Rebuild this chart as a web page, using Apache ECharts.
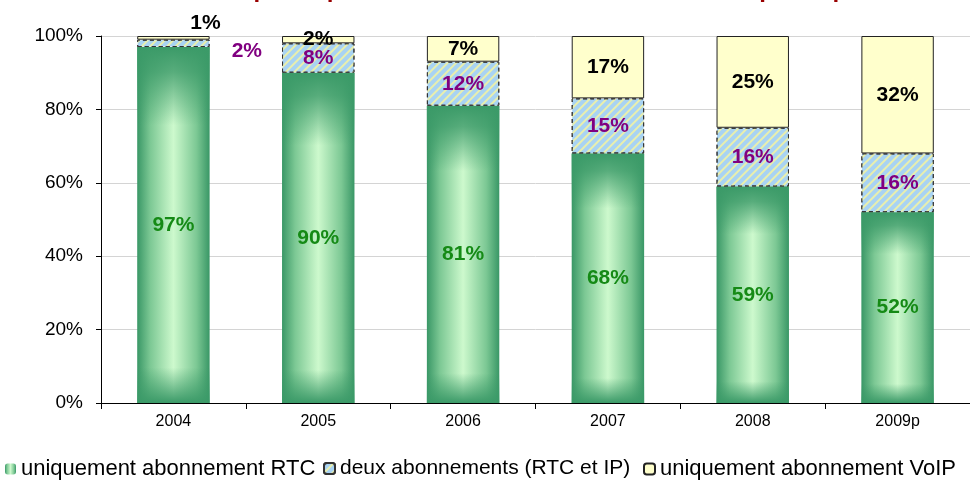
<!DOCTYPE html>
<html><head><meta charset="utf-8">
<script src="https://cdn.jsdelivr.net/npm/echarts@6/dist/echarts.min.js"></script>
<style>html,body{margin:0;padding:0;background:#fff}#c{width:970px;height:484px}</style>
</head><body><div id="c"></div>
<script>
const titleText = "Abonnés téléphoniques selon le mode d'abonnement téléphonique";
const categories = ['2004','2005','2006','2007','2008','2009p'];
const seriesNames = ['uniquement abonnement RTC','deux abonnements (RTC et IP)','uniquement abonnement VoIP'];
const rtc = [97, 90, 81, 68, 59, 52];
const both = [2, 8, 12, 15, 16, 16];
const voip = [1, 2, 7, 17, 25, 32];
const yTicks = [0, 20, 40, 60, 80, 100];

const FONT = "'Liberation Sans', Arial, sans-serif";
const chart = echarts.init(document.getElementById('c'), null, {renderer:'canvas'});

const lbl = (color) => ({show:true, position:'inside', color:color, fontSize:21, fontWeight:'bold', fontFamily:FONT, formatter: p => p.value + '%'});

const bothData = both.map((v,i) => i === 0 ? {value:v, label:{position:'right', distance:22, offset:[0,8]}} : v);
const voipData = voip.map((v,i) => i === 0 ? {value:v, label:{position:'top', distance:2, offset:[32,0]}} : v);

const greenGrad = new echarts.graphic.LinearGradient(0,0,1,0,[
  {offset:0, color:'#399766'},{offset:0.18, color:'#7cc894'},{offset:0.5, color:'#cdf9cd'},{offset:0.82, color:'#7cc894'},{offset:1, color:'#399766'}]);
const shade = new echarts.graphic.LinearGradient(0,0,0,1,[
  {offset:0, color:'rgba(59,154,104,1)'},{offset:0.07, color:'rgba(59,154,104,0.8)'},{offset:0.22, color:'rgba(59,154,104,0)'},
  {offset:0.9, color:'rgba(59,154,104,0)'},{offset:0.98, color:'rgba(59,154,104,0.8)'},{offset:1, color:'rgba(59,154,104,1)'}]);

const legendBase = {top:453, itemWidth:11, itemHeight:11, itemGap:0};
const legendText = (size) => ({fontSize:size, color:'#000', fontFamily:FONT});

chart.setOption({
  animation:false,
  title:{text:titleText, left:'center', top:-27, textStyle:{color:'#990000', fontSize:24, fontWeight:'bold', fontFamily:FONT}},
  grid:{left:101, right:-13, top:36, bottom:81, containLabel:false},
  legend:[
    Object.assign({data:[seriesNames[0]], left:0, textStyle:legendText(22)}, legendBase),
    Object.assign({data:[seriesNames[1]], left:318, textStyle:legendText(21)}, legendBase),
    Object.assign({data:[seriesNames[2]], left:638, textStyle:legendText(22)}, legendBase)
  ],
  xAxis:{type:'category', data:categories,
    axisLine:{lineStyle:{color:'#000', width:1}},
    axisTick:{show:true, length:6, lineStyle:{color:'#000'}},
    axisLabel:{color:'#000', fontSize:16, fontFamily:FONT, margin:11}},
  yAxis:{type:'value', min:0, max:100, interval:20,
    axisLine:{show:true, lineStyle:{color:'#000'}},
    axisTick:{show:true, length:5, lineStyle:{color:'#000'}},
    axisLabel:{color:'#000', fontSize:19, fontFamily:FONT, margin:18, formatter: v => yTicks.includes(v) ? v + '%' : ''},
    splitLine:{lineStyle:{color:'#d4d4d4'}}},
  series:[
    {name:seriesNames[0], type:'bar', stack:'t', barWidth:'50%', barGap:'-100%', data:rtc,
      itemStyle:{color:greenGrad}, label:lbl('#158a15'), z:2},
    {name:seriesNames[1], type:'bar', stack:'t', barWidth:'50%', barGap:'-100%', data:bothData,
      itemStyle:{color:'#a8d3f3', borderColor:'#333', borderWidth:1, borderType:[4,3],
        decal:{symbol:'rect', symbolSize:1, dashArrayX:[1,0], dashArrayY:[2,4], rotation:-Math.PI/4, color:'rgba(236,240,170,0.95)'}},
      label:lbl('#800080'), z:4},
    {name:seriesNames[2], type:'bar', stack:'t', barWidth:'50%', barGap:'-100%', data:voipData,
      itemStyle:{color:'#ffffcc', borderColor:'#222', borderWidth:1},
      label:lbl('#000'), z:4},
    {name:'shade', type:'bar', stack:'s', barWidth:'50%', barGap:'-100%', data:rtc, silent:true,
      itemStyle:{color:shade}, label:{show:false}, z:3}
  ]
});
</script></body></html>
